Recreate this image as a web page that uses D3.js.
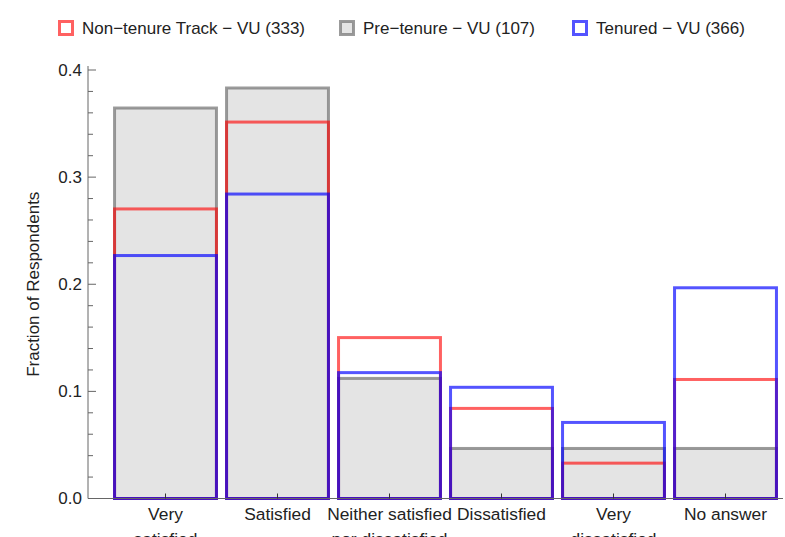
<!DOCTYPE html>
<html>
<head>
<meta charset="utf-8">
<script src="https://cdn.jsdelivr.net/npm/d3@7"></script>
<style>
  body { margin: 0; background: #fff; }
  svg { font-family: "Liberation Sans", Arial, sans-serif; }
</style>
</head>
<body>
<svg id="chart" width="785" height="537"></svg>
<script>
// categories and series fractions
const categories = ["Very satisfied", "Satisfied", "Neither satisfied nor dissatisfied",
  "Dissatisfied", "Very dissatisfied", "No answer"]
const catLines = [["Very", "satisfied"], ["Satisfied"], ["Neither satisfied", "nor dissatisfied"],
  ["Dissatisfied"], ["Very", "dissatisfied"], ["No answer"]]
const nonTenure = [0.2703, 0.3514, 0.1502, 0.0841, 0.0330, 0.1111]
const preTenure = [0.3645, 0.3832, 0.1121, 0.0467, 0.0467, 0.0467]
const tenured = [0.2268, 0.2842, 0.1175, 0.1038, 0.0710, 0.1967]
const yTicks = [0, 0.1, 0.2, 0.3, 0.4]

const series = [
  {name: "Pre\u2212tenure \u2212 VU (107)", values: preTenure, stroke: "#707070", fill: "#e4e4e4", op: 0.7},
  {name: "Non\u2212tenure Track \u2212 VU (333)", values: nonTenure, stroke: "#ff0000", fill: "none", op: 0.62},
  {name: "Tenured \u2212 VU (366)", values: tenured, stroke: "#0000ff", fill: "none", op: 0.67}
]
const legendOrder = [1, 0, 2]

const svg = d3.select("#chart")
const x0 = 88, yBase = 498.5

const x = d3.scaleBand().domain(categories).range([109.5, 781.5])
  .paddingInner(0.09).paddingOuter(0.045)
const y = d3.scaleLinear().domain([0, 0.4]).range([yBase, 70])

// bars: fills first, then outlines in series order
const g = svg.append("g")
series.forEach(s => {
  g.append("g").selectAll("rect").data(s.values).enter().append("rect")
    .attr("x", (d, i) => x(categories[i]))
    .attr("y", d => y(d))
    .attr("width", x.bandwidth())
    .attr("height", d => yBase - y(d))
    .attr("fill", s.fill)
    .attr("stroke", "none")
})
series.forEach(s => {
  g.append("g").selectAll("rect").data(s.values).enter().append("rect")
    .attr("x", (d, i) => x(categories[i]))
    .attr("y", d => y(d))
    .attr("width", x.bandwidth())
    .attr("height", d => yBase - y(d))
    .attr("fill", "none")
    .attr("stroke", s.stroke)
    .attr("stroke-opacity", s.op)
    .attr("stroke-width", 3)
})

// y axis
const yAxis = svg.append("g").attr("transform", `translate(${x0},0)`)
yAxis.append("line").attr("x1", 0).attr("x2", 0).attr("y1", 66).attr("y2", yBase)
  .attr("stroke", "#666").attr("stroke-width", 1)
const minor = d3.range(0, 0.4001, 0.02)
yAxis.selectAll("line.minor").data(minor).enter().append("line")
  .attr("class", "minor")
  .attr("x1", 0).attr("x2", d => (Math.round(d * 100) % 10 === 0) ? 8 : 5)
  .attr("y1", d => y(d)).attr("y2", d => y(d))
  .attr("stroke", "#666")
yAxis.selectAll("text").data(yTicks).enter().append("text")
  .attr("x", -6).attr("y", d => y(d)).attr("dy", "0.35em")
  .attr("text-anchor", "end").attr("font-size", 17).attr("fill", "#222")
  .text(d => d3.format(".1f")(d))

svg.append("text")
  .attr("transform", `translate(39,${(70 + yBase) / 2}) rotate(-90)`)
  .attr("text-anchor", "middle").attr("font-size", 17).attr("fill", "#222")
  .text("Fraction of Respondents")

// x axis
svg.append("line").attr("x1", x0).attr("x2", 783).attr("y1", yBase).attr("y2", yBase)
  .attr("stroke", "#666")
const xt = svg.append("g")
xt.selectAll("line").data(categories).enter().append("line")
  .attr("x1", d => x(d) + x.bandwidth() / 2).attr("x2", d => x(d) + x.bandwidth() / 2)
  .attr("y1", yBase).attr("y2", yBase - 5).attr("stroke", "#333")
xt.selectAll("text").data(categories).enter().append("text")
  .attr("x", d => x(d) + x.bandwidth() / 2)
  .attr("y", 520)
  .attr("text-anchor", "middle").attr("font-size", 17.4).attr("fill", "#222")
  .each(function (d, i) {
    const t = d3.select(this)
    catLines[i].forEach((ln, k) => {
      t.append("tspan").attr("x", x(d) + x.bandwidth() / 2).attr("dy", k === 0 ? 0 : 25).text(ln)
    })
  })

// legend
const legendX = [58, 339, 572]
const lg = svg.append("g")
legendOrder.forEach((si, k) => {
  const s = series[si]
  const item = lg.append("g").attr("transform", `translate(${legendX[k]},20)`)
  item.append("rect").attr("x", 1.5).attr("y", 1.5).attr("width", 13).attr("height", 13)
    .attr("fill", s.fill === "none" ? "#fff" : s.fill)
    .attr("stroke", s.stroke).attr("stroke-opacity", s.op).attr("stroke-width", 3)
  item.append("text").attr("x", 24).attr("y", 8).attr("dy", "0.35em")
    .attr("font-size", 17).attr("fill", "#222").text(s.name)
})
</script>
</body>
</html>
